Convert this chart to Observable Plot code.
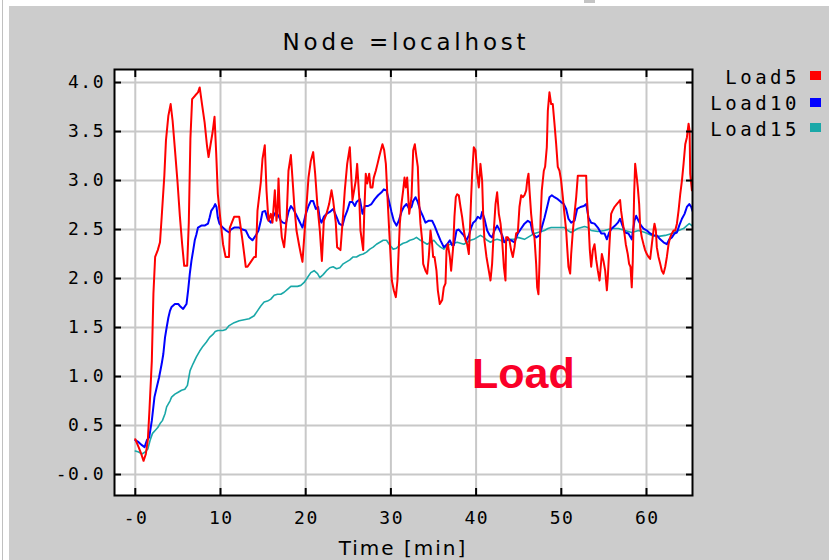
<!DOCTYPE html>
<html>
<head>
<meta charset="utf-8">
<script src="https://cdn.jsdelivr.net/npm/d3@7"></script>
<script src="https://cdn.jsdelivr.net/npm/@observablehq/plot@0.6"></script>
<style>
  html, body { margin: 0; padding: 0; background: #ffffff; }
  #wrap { position: relative; width: 829px; height: 560px; overflow: hidden; background: #ffffff; }
  #panel { position: absolute; left: 9px; top: 6px; right: 0; bottom: 0; background: #cccccc; }
  #edge { position: absolute; left: 2px; top: 0; width: 1px; height: 560px; background: #c0c0c0; }
  #mark { position: absolute; left: 584px; top: 0; width: 11px; height: 3px; background: #c4c4c4; }
  #chart { position: absolute; left: 0; top: 0; }
  #chart svg [aria-label="x-axis tick label"], #chart svg [aria-label="y-axis tick label"] { letter-spacing: 1.5px; }
  .ov { position: absolute; white-space: nowrap; color: #000; }
  #title { left: 0; width: 812px; top: 31px; text-align: center; font: 23px/23px "DejaVu Sans"; letter-spacing: 3.8px; }
  #xlabel { left: 0; width: 806px; top: 538px; text-align: center; font: 20px/20px "DejaVu Sans"; letter-spacing: 2px; }
  .lg { right: 29px; font: 19px/19px "DejaVu Sans Mono"; letter-spacing: 3.5px; text-align: right; }
  .sw { position: absolute; left: 810px; width: 11px; height: 9px; }
  #note { left: 472px; top: 352px; font: bold 43px/43px "Liberation Sans", Arial, sans-serif; color: #fa0028; }
</style>
</head>
<body>
<div id="wrap">
  <div id="panel"></div>
  <div id="edge"></div>
  <div id="mark"></div>
  <div id="chart"></div>
  <div id="title" class="ov"></div>
  <div id="xlabel" class="ov"></div>
  <div id="legend"></div>
  <div id="note" class="ov"></div>
</div>
<script>
// ---- text ----
const chartTitle = "Node =localhost";
const xAxisTitle = "Time [min]";
const annotation = "Load";

// ---- ticks ----
const xTicks = [0, 10, 20, 30, 40, 50, 60];
const xTickLabels = ["-0", "10", "20", "30", "40", "50", "60"];
const yTicks = [0, 0.5, 1, 1.5, 2, 2.5, 3, 3.5, 4];
const yTickLabels = ["-0.0", "0.5", "1.0", "1.5", "2.0", "2.5", "3.0", "3.5", "4.0"];

// ---- series ----
const seriesNames = ["Load5", "Load10", "Load15"];
const seriesColors = ["#ff0000", "#0000ff", "#1aa8a8"];

// [time (min), load]
const load5 = [[0,0.36],[0.39,0.28],[0.7,0.21],[0.97,0.14],[1.24,0.21],[1.47,0.35],[1.67,0.67],[1.94,1.16],[2.13,1.85],[2.33,2.22],[2.64,2.29],[2.9,2.37],[3.1,2.63],[3.41,3.05],[3.6,3.41],[3.88,3.66],[4.15,3.78],[4.38,3.61],[4.65,3.32],[4.96,2.98],[5.23,2.64],[5.5,2.35],[5.74,2.13],[6.09,2.13],[6.28,2.57],[6.47,3.43],[6.67,3.83],[7.05,3.87],[7.36,3.9],[7.56,3.95],[7.83,3.78],[8.14,3.59],[8.41,3.36],[8.6,3.24],[8.84,3.37],[9.07,3.49],[9.3,3.65],[9.5,3.27],[9.69,2.86],[10.0,2.59],[10.3,2.35],[10.6,2.22],[11.0,2.22],[11.1,2.52],[11.6,2.63],[12.2,2.63],[12.58,2.39],[12.97,2.12],[13.17,2.12],[13.56,2.17],[13.95,2.22],[14.15,2.22],[14.34,2.69],[14.73,2.98],[14.93,3.22],[15.2,3.36],[15.4,2.9],[15.63,2.59],[15.91,2.66],[16.1,2.57],[16.38,2.9],[16.57,2.59],[16.69,2.68],[16.81,3.02],[16.97,2.66],[17.2,2.42],[17.47,2.32],[17.75,2.59],[17.98,3.1],[18.26,3.26],[18.45,3.02],[18.65,2.76],[18.92,2.49],[19.23,2.34],[19.43,2.25],[19.62,2.17],[20.02,2.66],[20.33,3.03],[20.6,3.2],[20.88,3.29],[21.11,3.07],[21.39,2.73],[21.66,2.49],[21.9,2.18],[22.13,2.59],[22.44,2.66],[22.75,2.76],[23.03,2.9],[23.22,2.8],[23.53,2.57],[23.69,2.32],[24.08,2.29],[24.4,2.66],[24.59,2.9],[24.87,3.17],[25.18,3.34],[25.49,2.8],[25.88,3.0],[26.04,3.17],[26.28,2.83],[26.43,2.49],[26.75,2.29],[26.87,2.66],[27.05,3.07],[27.22,2.97],[27.45,3.07],[27.61,2.93],[27.84,2.93],[27.99,3.03],[28.23,3.1],[28.43,3.17],[28.62,3.24],[28.82,3.31],[29.01,3.37],[29.21,3.31],[29.41,3.17],[29.6,2.83],[29.8,2.49],[29.95,2.25],[30.11,1.98],[30.34,1.88],[30.58,1.81],[30.77,1.98],[30.93,2.32],[31.05,2.56],[31.24,2.76],[31.44,2.9],[31.6,3.03],[31.75,2.93],[31.91,3.03],[32.15,2.66],[32.42,2.83],[32.62,3.31],[32.81,3.37],[33.0,3.24],[33.16,3.14],[33.28,2.83],[33.47,2.56],[33.67,2.39],[33.79,2.15],[34.06,2.08],[34.26,2.05],[34.45,2.22],[34.65,2.49],[34.84,2.35],[34.96,2.22],[35.12,2.22],[35.35,2.08],[35.51,1.88],[35.74,1.74],[36.02,1.78],[36.21,1.91],[36.41,1.95],[36.53,2.29],[36.68,2.35],[36.92,2.22],[37.07,2.08],[37.31,2.32],[37.46,2.63],[37.62,2.83],[37.78,2.86],[37.97,2.85],[38.17,2.73],[38.36,2.63],[38.56,2.49],[38.76,2.39],[38.95,2.35],[39.15,2.25],[39.27,2.49],[39.42,2.83],[39.54,3.07],[39.73,3.34],[39.93,3.31],[40.12,3.07],[40.32,2.93],[40.51,3.17],[40.71,3.0],[40.83,2.66],[40.98,2.39],[41.22,2.22],[41.49,2.08],[41.69,1.98],[41.88,2.15],[42.08,2.49],[42.28,2.76],[42.47,2.88],[42.67,2.66],[42.87,2.56],[43.06,2.39],[43.26,2.12],[43.45,1.98],[43.53,2.42],[43.72,2.42],[43.92,2.39],[44.11,2.29],[44.31,2.22],[44.51,2.32],[44.7,2.46],[44.9,2.47],[45.09,2.73],[45.29,2.85],[45.49,2.83],[45.68,2.85],[45.88,2.9],[46.0,3.0],[46.15,3.07],[46.27,2.9],[46.46,2.66],[46.66,2.49],[46.85,2.42],[47.05,2.15],[47.17,1.91],[47.32,1.84],[47.44,2.15],[47.56,2.59],[47.71,2.9],[47.95,3.1],[48.1,3.14],[48.3,3.34],[48.42,3.71],[48.61,3.9],[48.81,3.78],[49.0,3.78],[49.2,3.58],[49.4,3.37],[49.59,3.14],[49.79,3.1],[49.98,3.0],[50.18,2.83],[50.37,2.66],[50.57,2.49],[50.69,2.32],[50.84,2.12],[51.04,2.05],[51.16,2.25],[51.36,2.49],[51.55,2.66],[51.75,2.83],[51.94,3.05],[52.92,3.05],[53.0,2.83],[53.2,2.56],[53.35,2.29],[53.51,2.12],[53.7,2.29],[53.9,2.35],[54.1,2.19],[54.29,2.08],[54.49,1.98],[54.76,2.25],[54.95,2.18],[55.15,2.08],[55.35,1.88],[55.46,2.01],[55.62,2.29],[55.85,2.66],[56.0,2.69],[56.24,2.73],[56.51,2.76],[56.71,2.78],[56.9,2.8],[57.02,2.69],[57.18,2.59],[57.41,2.46],[57.57,2.35],[57.8,2.25],[57.96,2.15],[58.12,2.12],[58.27,1.91],[58.39,2.18],[58.55,2.86],[58.67,3.17],[58.86,3.03],[58.98,2.93],[59.14,2.76],[59.26,2.52],[59.45,2.42],[59.65,2.35],[59.84,2.29],[60.04,2.25],[60.24,2.22],[60.43,2.2],[60.63,2.35],[60.82,2.49],[60.94,2.56],[61.1,2.49],[61.21,2.32],[61.41,2.22],[61.61,2.15],[61.8,2.08],[62.0,2.05],[62.2,2.12],[62.39,2.22],[62.59,2.35],[62.78,2.42],[62.98,2.46],[63.18,2.49],[63.37,2.49],[63.57,2.56],[63.76,2.69],[63.96,2.86],[64.16,3.0],[64.35,3.17],[64.55,3.37],[64.74,3.44],[64.94,3.58],[65.06,3.51],[65.13,3.07],[65.33,2.9]];

const load10 = [[0,0.35],[0.39,0.33],[0.78,0.3],[1.09,0.28],[1.36,0.35],[1.63,0.38],[1.94,0.55],[2.25,0.79],[2.52,0.89],[2.79,0.99],[3.1,1.13],[3.29,1.23],[3.49,1.4],[3.68,1.5],[3.88,1.6],[4.07,1.67],[4.26,1.71],[4.65,1.74],[5.04,1.74],[5.23,1.72],[5.62,1.69],[6.01,1.74],[6.2,1.88],[6.4,2.05],[6.59,2.18],[6.78,2.28],[6.98,2.39],[7.17,2.45],[7.36,2.52],[7.75,2.54],[8.14,2.54],[8.53,2.56],[8.72,2.62],[8.91,2.69],[9.22,2.73],[9.38,2.76],[9.53,2.73],[9.69,2.62],[9.88,2.56],[10.27,2.52],[10.66,2.49],[11.02,2.47],[11.21,2.5],[11.6,2.52],[12.2,2.52],[12.58,2.5],[12.97,2.49],[13.36,2.42],[13.75,2.39],[14.15,2.44],[14.46,2.49],[14.73,2.59],[14.93,2.68],[15.24,2.69],[15.52,2.61],[15.91,2.57],[16.18,2.63],[16.49,2.68],[16.81,2.64],[17.08,2.59],[17.35,2.57],[17.67,2.56],[17.98,2.68],[18.26,2.74],[18.53,2.71],[18.84,2.66],[19.23,2.59],[19.62,2.52],[20.02,2.66],[20.33,2.74],[20.6,2.79],[20.88,2.79],[21.19,2.71],[21.46,2.73],[21.66,2.61],[21.85,2.57],[22.13,2.63],[22.44,2.66],[22.83,2.68],[23.22,2.71],[23.62,2.63],[23.93,2.56],[24.32,2.54],[24.59,2.63],[24.87,2.69],[25.18,2.78],[25.49,2.78],[25.77,2.74],[25.96,2.78],[26.36,2.81],[26.67,2.66],[26.94,2.74],[27.33,2.74],[27.72,2.76],[28.11,2.81],[28.5,2.85],[28.9,2.88],[29.17,2.91],[29.48,2.9],[29.8,2.78],[30.07,2.68],[30.34,2.59],[30.66,2.54],[30.93,2.59],[31.24,2.68],[31.51,2.73],[31.83,2.76],[32.15,2.71],[32.42,2.73],[32.61,2.79],[32.89,2.83],[33.16,2.78],[33.47,2.69],[33.79,2.63],[34.06,2.57],[34.45,2.59],[34.84,2.59],[35.12,2.54],[35.43,2.47],[35.82,2.39],[36.21,2.32],[36.6,2.35],[36.92,2.39],[37.19,2.34],[37.39,2.34],[37.7,2.49],[37.97,2.5],[38.25,2.47],[38.56,2.44],[38.87,2.39],[39.15,2.44],[39.42,2.52],[39.66,2.57],[39.93,2.59],[40.2,2.63],[40.51,2.61],[40.71,2.68],[40.98,2.61],[41.3,2.49],[41.61,2.44],[41.88,2.42],[42.16,2.49],[42.47,2.54],[42.79,2.49],[43.06,2.44],[43.33,2.37],[43.72,2.4],[44.11,2.39],[44.51,2.37],[44.9,2.46],[45.29,2.51],[45.68,2.56],[46.07,2.59],[46.39,2.57],[46.66,2.46],[47.05,2.42],[47.44,2.44],[47.71,2.52],[48.03,2.62],[48.34,2.73],[48.61,2.83],[48.89,2.85],[49.2,2.83],[49.59,2.81],[49.98,2.78],[50.3,2.76],[50.57,2.71],[50.84,2.61],[51.16,2.57],[51.55,2.59],[51.86,2.71],[52.25,2.73],[52.65,2.74],[52.92,2.76],[53.2,2.62],[53.51,2.57],[53.9,2.56],[54.29,2.52],[54.69,2.46],[55.07,2.46],[55.35,2.4],[55.62,2.47],[55.93,2.51],[56.32,2.54],[56.64,2.57],[56.9,2.61],[57.18,2.54],[57.49,2.47],[57.88,2.46],[58.27,2.4],[58.59,2.59],[58.79,2.64],[59.06,2.59],[59.37,2.54],[59.65,2.51],[60.04,2.49],[60.43,2.46],[60.82,2.44],[61.21,2.44],[61.61,2.4],[62.0,2.37],[62.39,2.35],[62.67,2.4],[62.98,2.42],[63.29,2.46],[63.57,2.47],[63.84,2.54],[64.16,2.61],[64.47,2.66],[64.74,2.73],[65.02,2.76],[65.25,2.73],[65.4,2.69]];

const load15 = [[0,0.24],[0.39,0.23],[0.78,0.21],[1.16,0.23],[1.47,0.26],[1.74,0.35],[2.02,0.42],[2.33,0.45],[2.64,0.48],[2.91,0.52],[3.18,0.55],[3.49,0.62],[3.68,0.69],[3.88,0.72],[4.07,0.75],[4.26,0.79],[4.65,0.82],[5.04,0.84],[5.43,0.86],[5.81,0.87],[6.12,0.91],[6.28,0.99],[6.43,1.06],[6.78,1.13],[7.17,1.2],[7.56,1.26],[7.95,1.31],[8.33,1.35],[8.72,1.4],[9.11,1.43],[9.38,1.46],[9.69,1.47],[10.27,1.47],[10.63,1.48],[11.02,1.52],[11.6,1.55],[12.2,1.57],[12.78,1.58],[13.36,1.59],[13.95,1.62],[14.34,1.67],[14.73,1.72],[15.12,1.76],[15.52,1.77],[15.91,1.79],[16.3,1.83],[16.69,1.84],[17.08,1.84],[17.47,1.86],[17.86,1.89],[18.26,1.92],[18.65,1.92],[19.04,1.92],[19.43,1.93],[19.82,1.96],[20.21,2.01],[20.6,2.06],[20.99,2.08],[21.39,2.05],[21.66,2.01],[22.05,2.04],[22.44,2.08],[22.83,2.11],[23.22,2.12],[23.62,2.1],[24.01,2.11],[24.4,2.15],[24.79,2.17],[25.18,2.19],[25.57,2.22],[25.96,2.22],[26.36,2.24],[26.75,2.25],[27.14,2.27],[27.53,2.3],[27.92,2.32],[28.31,2.35],[28.71,2.37],[29.1,2.39],[29.49,2.39],[29.88,2.34],[30.27,2.3],[30.66,2.31],[31.05,2.34],[31.44,2.36],[31.83,2.37],[32.23,2.39],[32.62,2.4],[33.0,2.42],[33.47,2.39],[33.87,2.37],[34.26,2.35],[34.65,2.37],[35.04,2.39],[35.43,2.35],[35.82,2.32],[36.21,2.3],[36.6,2.34],[37.0,2.35],[37.39,2.36],[37.78,2.37],[38.17,2.36],[38.56,2.35],[38.95,2.37],[39.34,2.39],[39.73,2.4],[40.12,2.42],[40.51,2.44],[40.91,2.42],[41.3,2.39],[41.69,2.37],[42.08,2.39],[42.47,2.4],[42.87,2.39],[43.26,2.37],[43.65,2.39],[44.04,2.4],[44.51,2.4],[44.9,2.42],[45.68,2.4],[46.07,2.42],[46.46,2.44],[46.85,2.46],[47.25,2.47],[48.03,2.49],[48.42,2.51],[48.81,2.52],[50.37,2.52],[50.77,2.49],[51.16,2.47],[51.55,2.49],[51.94,2.51],[52.33,2.52],[52.73,2.53],[53.12,2.52],[53.51,2.49],[54.29,2.48],[55.08,2.49],[55.93,2.51],[56.71,2.51],[57.49,2.49],[58.27,2.47],[59.06,2.49],[59.84,2.47],[60.63,2.44],[61.41,2.43],[62.2,2.44],[62.98,2.46],[63.76,2.49],[64.35,2.51],[64.74,2.54],[65.02,2.56],[65.33,2.54]];

const seriesData = [load5, load10, load15];

// table built from the arrays
const rows = [];
seriesData.forEach((arr, k) => arr.forEach(([t, v]) => rows.push({series: seriesNames[k], time: t, load: v})));

const xFmt = d => xTickLabels[xTicks.indexOf(d)];
const yFmt = d => yTickLabels[yTicks.indexOf(d)];
const tickFont = {fontFamily: "DejaVu Sans Mono", fontSize: 18};

const lineMarks = [2, 1, 0].map(k =>
  Plot.line(rows.filter(d => d.series === seriesNames[k]), {
    x: "time", y: "load", stroke: seriesColors[k],
    strokeWidth: k === 2 ? 1.6 : 2, clip: true
  })
);

const chart = Plot.plot({
  width: 829, height: 560,
  marginLeft: 114, marginRight: 137, marginTop: 69, marginBottom: 65,
  style: {background: "transparent", color: "#000", overflow: "visible"},
  x: {domain: [-2.44, 65.4]},
  y: {domain: [-0.214, 4.133]},
  marks: [
    Plot.frame({fill: "#ffffff"}),
    Plot.gridX(xTicks, {stroke: "#c8c8c8", strokeWidth: 2, strokeOpacity: 1}),
    Plot.gridY(yTicks, {stroke: "#c8c8c8", strokeWidth: 2, strokeOpacity: 1}),
    ...lineMarks,
    Plot.frame({stroke: "#000", strokeWidth: 2}),
    // inward ticks on all four sides
    Plot.axisX(xTicks, {anchor: "bottom", tickSize: -7, tickFormat: () => "", strokeWidth: 2, label: null}),
    Plot.axisX(xTicks, {anchor: "top", tickSize: -7, tickFormat: () => "", strokeWidth: 2, label: null}),
    Plot.axisY(yTicks, {anchor: "left", tickSize: -7, tickFormat: () => "", strokeWidth: 2, label: null}),
    Plot.axisY(yTicks, {anchor: "right", tickSize: -7, tickFormat: () => "", strokeWidth: 2, label: null}),
    // tick labels
    Plot.axisX(xTicks, {anchor: "bottom", tickSize: 0, tickPadding: 16, tickFormat: xFmt, dx: 0.75, label: null, ...tickFont}),
    Plot.axisY(yTicks, {anchor: "left", tickSize: 0, tickPadding: 9.5, tickFormat: yFmt, label: null, ...tickFont})
  ]
});
document.getElementById("chart").appendChild(chart);

// titles and annotation
document.getElementById("title").textContent = chartTitle;
document.getElementById("xlabel").textContent = xAxisTitle;
document.getElementById("note").textContent = annotation;

// legend
const legendTops = [67.5, 94, 119.5];
const legend = document.getElementById("legend");
seriesNames.forEach((name, k) => {
  const t = document.createElement("div");
  t.className = "ov lg";
  t.style.top = legendTops[k] + "px";
  t.textContent = name;
  legend.appendChild(t);
  const s = document.createElement("div");
  s.className = "sw";
  s.style.top = (legendTops[k] + 3.5) + "px";
  s.style.background = seriesColors[k];
  legend.appendChild(s);
});
</script>
</body>
</html>
